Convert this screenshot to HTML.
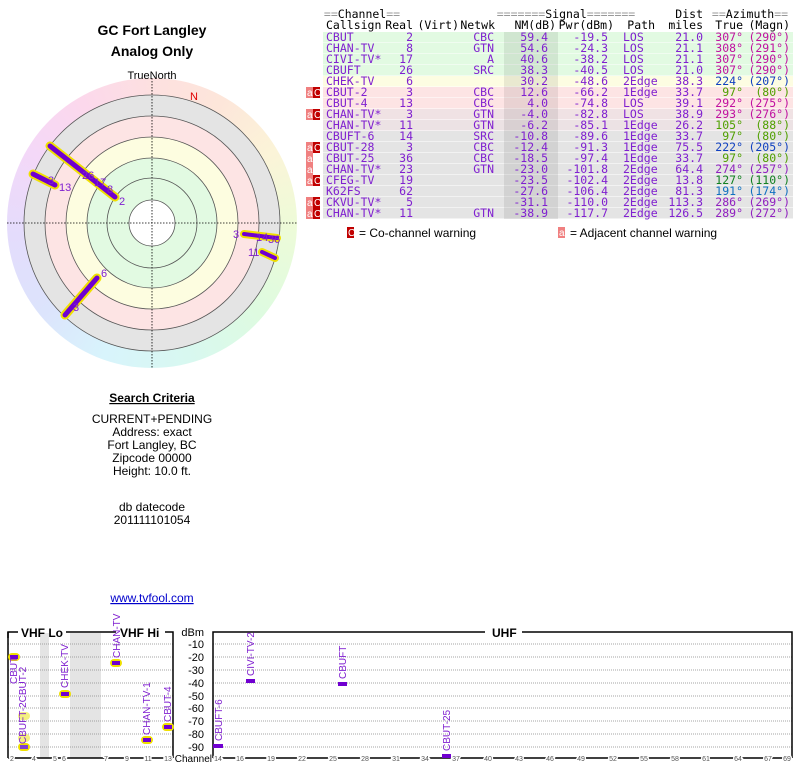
<!DOCTYPE html>
<html><head><meta charset="utf-8"><style>
body{margin:0;width:800px;height:768px;background:#fff;position:relative;overflow:hidden;font-family:"Liberation Sans",sans-serif}
.wheel{position:absolute;left:7px;top:78px;width:290px;height:290px;border-radius:50%;
background:conic-gradient(from 0deg,#fde0e0,#fde6da 30deg,#fbf4d8 60deg,#eefbd8 90deg,#defbe0 130deg,#d8f8f0 165deg,#d8f4fc 200deg,#dce4fc 230deg,#e4dcfc 265deg,#f4d8f8 300deg,#fcd8ec 330deg,#fde0e0)}
svg{position:absolute;left:0;top:0}
</style></head><body>
<div class="wheel"></div>
<svg width="800" height="768" font-family="Liberation Sans, sans-serif">
<text x="152" y="35" font-size="14" font-weight="bold" text-anchor="middle">GC Fort Langley</text>
<text x="152" y="56" font-size="14" font-weight="bold" text-anchor="middle">Analog Only</text>
<text x="152" y="79" font-size="11" text-anchor="middle">TrueNorth</text>
<circle cx="152" cy="223" r="128" fill="#e4e4e4" stroke="#555" stroke-width="0.8"/>
<circle cx="152" cy="223" r="107" fill="#fde4e4" stroke="#555" stroke-width="0.8"/>
<circle cx="152" cy="223" r="86" fill="#fdfde0" stroke="#555" stroke-width="0.8"/>
<circle cx="152" cy="223" r="65" fill="#e2fae2" stroke="#555" stroke-width="0.8"/>
<circle cx="152" cy="223" r="45" fill="#e2fae2" stroke="#555" stroke-width="0.8"/>
<circle cx="152" cy="223" r="23" fill="#fff" stroke="#555" stroke-width="0.8"/>
<line x1="152" y1="78" x2="152" y2="368" stroke="#000" stroke-width="0.8" stroke-dasharray="1.5,1.5"/>
<line x1="7" y1="223" x2="297" y2="223" stroke="#000" stroke-width="0.8" stroke-dasharray="1.5,1.5"/>
<text x="194" y="100" font-size="11" fill="#e00000" text-anchor="middle">N</text>
<g stroke-linecap="round">
<line x1="50" y1="146" x2="115" y2="197" stroke="#f0e000" stroke-width="9"/>
<line x1="33" y1="174" x2="55" y2="185" stroke="#f0e000" stroke-width="9"/>
<line x1="65" y1="315" x2="97" y2="278" stroke="#f0e000" stroke-width="9"/>
<line x1="244" y1="234" x2="277" y2="238" stroke="#f0e000" stroke-width="8"/>
<line x1="262" y1="252" x2="275" y2="258" stroke="#f0e000" stroke-width="8"/>
<line x1="50" y1="146" x2="115" y2="197" stroke="#7000d0" stroke-width="5"/>
<line x1="33" y1="174" x2="55" y2="185" stroke="#7000d0" stroke-width="5"/>
<line x1="65" y1="315" x2="97" y2="278" stroke="#7000d0" stroke-width="5"/>
<line x1="244" y1="234" x2="277" y2="238" stroke="#7000d0" stroke-width="4"/>
<line x1="262" y1="252" x2="275" y2="258" stroke="#7000d0" stroke-width="4"/>
</g>
<g font-size="11" fill="#8020d0">
<text x="82" y="179">26</text><text x="94" y="186">17</text><text x="107" y="193">8</text><text x="119" y="205">2</text>
<text x="48" y="184">3</text><text x="59" y="191">13</text>
<text x="101" y="277">6</text><text x="73" y="311">3</text>
<text x="233" y="238">3</text><text x="256" y="241">14</text><text x="268" y="243">36</text><text x="248" y="256">11</text>
</g>
<text x="152" y="402" font-size="12" font-weight="bold" text-anchor="middle" text-decoration="underline">Search Criteria</text>
<g font-size="12" text-anchor="middle">
<text x="152" y="423">CURRENT+PENDING</text><text x="152" y="436">Address: exact</text>
<text x="152" y="449">Fort Langley, BC</text><text x="152" y="462">Zipcode 00000</text>
<text x="152" y="475">Height: 10.0 ft.</text>
<text x="152" y="511">db datecode</text><text x="152" y="524">201111101054</text>
<text x="152" y="602" fill="#0000cc" text-decoration="underline">www.tvfool.com</text>
</g>
<g font-family="DejaVu Sans Mono, Liberation Mono, monospace" font-size="11.5">
<text x="362" y="18" fill="#999" text-anchor="middle">==<tspan fill="#000">Channel</tspan>==</text>
<text x="566" y="18" fill="#999" text-anchor="middle">=======<tspan fill="#000">Signal</tspan>=======</text>
<text x="703" y="18" text-anchor="end">Dist</text>
<text x="750" y="18" fill="#999" text-anchor="middle">==<tspan fill="#000">Azimuth</tspan>==</text>
<text x="326" y="29">Callsign</text><text x="413" y="29" text-anchor="end">Real</text><text x="459" y="29" text-anchor="end">(Virt)</text>
<text x="495" y="29" text-anchor="end">Netwk</text><text x="556" y="29" text-anchor="end">NM(dB)</text><text x="614" y="29" text-anchor="end">Pwr(dBm)</text>
<text x="655" y="29" text-anchor="end">Path</text><text x="703" y="29" text-anchor="end">miles</text><text x="743" y="29" text-anchor="end">True</text><text x="790" y="29" text-anchor="end">(Magn)</text>
</g>
<g id="rows"></g>
<rect x="347" y="227" width="7" height="11" fill="#c00000"/><text x="348" y="236" font-size="10" fill="#fff">C</text>
<text x="359" y="237" font-size="12">= Co-channel warning</text>
<rect x="558" y="227" width="7" height="11" fill="#f08080"/><text x="559" y="236" font-size="10" fill="#fff">a</text>
<text x="570" y="237" font-size="12">= Adjacent channel warning</text>
<rect x="40" y="633" width="9" height="125" fill="#e4e4e4"/>
<rect x="70" y="633" width="31" height="125" fill="#e4e4e4"/>
<g stroke="#888" stroke-width="0.7" stroke-dasharray="1,1">
<line x1="8" x2="173" y1="644" y2="644"/><line x1="8" x2="173" y1="657" y2="657"/><line x1="8" x2="173" y1="670" y2="670"/><line x1="8" x2="173" y1="683" y2="683"/><line x1="8" x2="173" y1="696" y2="696"/><line x1="8" x2="173" y1="708" y2="708"/><line x1="8" x2="173" y1="721" y2="721"/><line x1="8" x2="173" y1="734" y2="734"/><line x1="8" x2="173" y1="747" y2="747"/>
<line x1="213" x2="792" y1="644" y2="644"/><line x1="213" x2="792" y1="657" y2="657"/><line x1="213" x2="792" y1="670" y2="670"/><line x1="213" x2="792" y1="683" y2="683"/><line x1="213" x2="792" y1="696" y2="696"/><line x1="213" x2="792" y1="708" y2="708"/><line x1="213" x2="792" y1="721" y2="721"/><line x1="213" x2="792" y1="734" y2="734"/><line x1="213" x2="792" y1="747" y2="747"/>
</g>
<g fill="none" stroke="#000" stroke-width="1.5">
<polyline points="8,638 8,632 18,632"/><line x1="66" y1="632" x2="116" y2="632"/><polyline points="165,632 173,632 173,758"/>
<line x1="8" y1="632" x2="8" y2="758"/>
<polyline points="213,758 213,632 485,632"/><polyline points="522,632 792,632 792,758"/>
<line x1="8" y1="758" x2="173" y2="758"/><line x1="213" y1="758" x2="792" y2="758"/>
</g>
<g font-size="12" font-weight="bold"><text x="21" y="637">VHF Lo</text><text x="120" y="637">VHF Hi</text><text x="492" y="637">UHF</text></g>
<g font-size="11" text-anchor="end">
<text x="204" y="636">dBm</text><text x="204" y="648">-10</text><text x="204" y="661">-20</text><text x="204" y="674">-30</text><text x="204" y="687">-40</text><text x="204" y="700">-50</text><text x="204" y="712">-60</text><text x="204" y="725">-70</text><text x="204" y="738">-80</text><text x="204" y="751">-90</text>
<text x="212" y="762" font-size="10">Channel</text>
</g>
<g font-size="7" fill="#555" text-anchor="middle" style="paint-order:stroke" stroke="#fff" stroke-width="3">
<text x="12" y="761">2</text><text x="34" y="761">4</text><text x="55" y="761">5</text><text x="64" y="761">6</text><text x="106" y="761">7</text><text x="127" y="761">9</text><text x="148" y="761">11</text><text x="168" y="761">13</text>
<text x="218" y="761">14</text><text x="240" y="761">16</text><text x="271" y="761">19</text><text x="302" y="761">22</text><text x="333" y="761">25</text><text x="365" y="761">28</text><text x="396" y="761">31</text><text x="425" y="761">34</text><text x="456" y="761">37</text><text x="488" y="761">40</text><text x="519" y="761">43</text><text x="550" y="761">46</text><text x="581" y="761">49</text><text x="613" y="761">52</text><text x="644" y="761">55</text><text x="675" y="761">58</text><text x="706" y="761">61</text><text x="738" y="761">64</text><text x="768" y="761">67</text><text x="787" y="761">69</text>
</g>
<g>
<rect x="8" y="653" width="12" height="8" rx="4" fill="#f0e000"/><rect x="10" y="655" width="8" height="4" fill="#7000d0"/>
<rect x="59" y="690" width="12" height="8" rx="4" fill="#f0e000"/><rect x="61" y="692" width="8" height="4" fill="#7000d0"/>
<rect x="110" y="659" width="12" height="8" rx="4" fill="#f0e000"/><rect x="112" y="661" width="8" height="4" fill="#7000d0"/>
<rect x="141" y="736" width="12" height="8" rx="4" fill="#f0e000"/><rect x="143" y="738" width="8" height="4" fill="#7000d0"/>
<rect x="162" y="723" width="12" height="8" rx="4" fill="#f0e000"/><rect x="164" y="725" width="8" height="4" fill="#7000d0"/>
<rect x="18" y="712" width="12" height="8" rx="4" fill="#f4f080"/>
<rect x="18" y="734" width="12" height="8" rx="4" fill="#f4f080"/>
<rect x="18" y="743" width="12" height="8" rx="4" fill="#f0e000"/><rect x="20" y="745" width="8" height="4" fill="#8040d0"/>
<rect x="213" y="744" width="10" height="4" fill="#7000d0"/>
<rect x="246" y="679" width="9" height="4" fill="#7000d0"/>
<rect x="338" y="682" width="9" height="4" fill="#7000d0"/>
<rect x="442" y="754" width="9" height="4" fill="#7000d0"/>
</g>
<g font-size="10" fill="#8020d0">
<text transform="translate(17,684) rotate(-90)">CBUT</text>
<text transform="translate(26,744) rotate(-90)">CBUFT-2CBUT-2</text>
<text transform="translate(68,688) rotate(-90)">CHEK-TV</text>
<text transform="translate(120,658) rotate(-90)">CHAN-TV</text>
<text transform="translate(150,735) rotate(-90)">CHAN-TV-1</text>
<text transform="translate(171,722) rotate(-90)">CBUT-4</text>
<text transform="translate(222,741) rotate(-90)">CBUFT-6</text>
<text transform="translate(254,676) rotate(-90)">CIVI-TV-2</text>
<text transform="translate(346,679) rotate(-90)">CBUFT</text>
<text transform="translate(450,751) rotate(-90)">CBUT-25</text>
</g>
</svg>
<script>
const rows=[
["","CBUT","2","CBC","59.4","-19.5","LOS","21.0","307°","(290°)","#e2fae2","#c010a0"],
["","CHAN-TV","8","GTN","54.6","-24.3","LOS","21.1","308°","(291°)","#e2fae2","#c010a0"],
["","CIVI-TV*","17","A","40.6","-38.2","LOS","21.1","307°","(290°)","#e2fae2","#c010a0"],
["","CBUFT","26","SRC","38.3","-40.5","LOS","21.0","307°","(290°)","#e2fae2","#c010a0"],
["","CHEK-TV","6","","30.2","-48.6","2Edge","38.3","224°","(207°)","#fdfde2","#1040c0"],
["aC","CBUT-2","3","CBC","12.6","-66.2","1Edge","33.7","97°","(80°)","#fde4e4","#50a000"],
["","CBUT-4","13","CBC","4.0","-74.8","LOS","39.1","292°","(275°)","#fde4e4","#c010a0"],
["aC","CHAN-TV*","3","GTN","-4.0","-82.8","LOS","38.9","293°","(276°)","#f0e2e4","#c010a0"],
["","CHAN-TV*","11","GTN","-6.2","-85.1","1Edge","26.2","105°","(88°)","#ece2e4","#50a000"],
["","CBUFT-6","14","SRC","-10.8","-89.6","1Edge","33.7","97°","(80°)","#e4e4e4","#50a000"],
["aC","CBUT-28","3","CBC","-12.4","-91.3","1Edge","75.5","222°","(205°)","#e4e4e4","#1040c0"],
["a","CBUT-25","36","CBC","-18.5","-97.4","1Edge","33.7","97°","(80°)","#e4e4e4","#50a000"],
["a","CHAN-TV*","23","GTN","-23.0","-101.8","2Edge","64.4","274°","(257°)","#e4e4e4","#9020c0"],
["aC","CFEG-TV","19","","-23.5","-102.4","2Edge","13.8","127°","(110°)","#e4e4e4","#108020"],
["","K62FS","62","","-27.6","-106.4","2Edge","81.3","191°","(174°)","#e4e4e4","#1070c0"],
["aC","CKVU-TV*","5","","-31.1","-110.0","2Edge","113.3","286°","(269°)","#e4e4e4","#9020c0"],
["aC","CHAN-TV*","11","GTN","-38.9","-117.7","2Edge","126.5","289°","(272°)","#e4e4e4","#9020c0"]];
let s="";const P='#8020d0';
rows.forEach((r,i)=>{const y=32+i*11,b=y+9;
s+=`<rect x="323" y="${y}" width="470" height="10.5" fill="${r[10]}"/><rect x="504" y="${y}" width="54" height="11" fill="rgba(0,0,0,0.08)"/>`;
if(r[0].includes("a"))s+=`<rect x="306" y="${y}" width="7" height="11" fill="#f08080"/><text x="307" y="${b}" font-size="10" fill="#fff">a</text>`;
if(r[0].includes("C"))s+=`<rect x="313" y="${y}" width="7" height="11" fill="#c00000"/><text x="314" y="${b}" font-size="10" fill="#fff">C</text>`;
s+=`<g font-family="DejaVu Sans Mono, Liberation Mono, monospace" font-size="11.5" fill="${P}"><text x="326" y="${b}">${r[1]}</text><text x="413" y="${b}" text-anchor="end">${r[2]}</text><text x="494" y="${b}" text-anchor="end">${r[3]}</text><text x="548" y="${b}" text-anchor="end">${r[4]}</text><text x="608" y="${b}" text-anchor="end">${r[5]}</text><text x="623" y="${b}">${r[6]}</text><text x="703" y="${b}" text-anchor="end">${r[7]}</text><text x="743" y="${b}" text-anchor="end" fill="${r[11]}">${r[8]}</text><text x="790" y="${b}" text-anchor="end" fill="${r[11]}">${r[9]}</text></g>`;});
document.getElementById("rows").innerHTML=s;
</script>
</body></html>
